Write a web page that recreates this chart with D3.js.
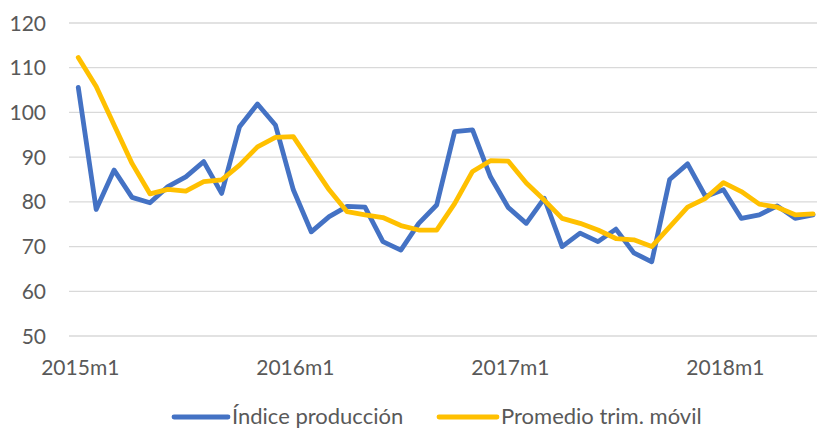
<!DOCTYPE html>
<html><head><meta charset="utf-8">
<script src="https://cdn.jsdelivr.net/npm/d3@7"></script>
<style>
html,body{margin:0;padding:0;background:#fff;overflow:hidden;}
text{font-family:Lato,"Open Sans",sans-serif;fill:#595959;}
</style></head>
<body><svg id="c" width="817" height="430"></svg>
<script>
const years = [2015, 2016, 2017, 2018];
const categories = [];
years.forEach(y => { for (let m = 1; m <= 12; m++) { if (y === 2018 && m > 6) break; categories.push(y + "m" + m); } });
const tickLabels = ["2015m1", "2016m1", "2017m1", "2018m1"];
const yTicks = [50, 60, 70, 80, 90, 100, 110, 120];
const indice = [105.6, 78.3, 87.1, 81.0, 79.8, 83.4, 85.6, 89.0, 81.9, 96.8, 101.9, 97.2,
  82.7, 73.3, 76.7, 79.0, 78.8, 71.1, 69.2, 75.2, 79.3, 95.7, 96.1, 85.6,
  78.7, 75.2, 80.8, 70.0, 73.0, 71.1, 73.9, 68.6, 66.6, 85.0, 88.5, 81.2,
  82.7, 76.3, 77.1, 79.1, 76.3, 77.1];
const promedio = [112.3, 105.8, 97.2, 88.6, 81.8, 82.8, 82.4, 84.5, 84.9, 88.2, 92.3, 94.4,
  94.6, 88.6, 82.7, 77.8, 77.1, 76.5, 74.7, 73.7, 73.7, 79.6, 86.8, 89.2,
  89.1, 84.2, 80.4, 76.3, 75.2, 73.7, 71.8, 71.5, 70.0, 74.4, 78.8, 80.8,
  84.3, 82.3, 79.5, 78.8, 77.1, 77.3];
const seriesNames = ["Índice producción", "Promedio trim. móvil"];
const colors = ["#4472C4", "#FFC000"];

const svg = d3.select("#c");
const x = d3.scaleBand().domain(categories).range([69.3, 822]).padding(0);
const xc = d => x(d) + x.bandwidth() / 2;
const y = d3.scaleLinear().domain([50, 120]).range([336, 23]);

// gridlines
svg.append("g").selectAll("line").data(yTicks).join("line")
  .attr("x1", 69).attr("x2", 817)
  .attr("y1", d => y(d)).attr("y2", d => y(d))
  .attr("stroke", "#D9D9D9").attr("stroke-width", 1.3);

// y labels
svg.append("g").selectAll("text").data(yTicks).join("text")
  .attr("x", 46).attr("y", d => y(d)).attr("dy", "0.36em")
  .attr("text-anchor", "end").attr("font-size", 21).text(d => d);

// x labels
svg.append("g").selectAll("text").data(tickLabels).join("text")
  .attr("x", d => xc(d) + 2).attr("y", 375)
  .attr("text-anchor", "middle").attr("font-size", 21).text(d => d);

const line = d3.line().x((d, i) => xc(categories[i])).y(d => y(d));
[indice, promedio].forEach((s, k) => {
  svg.append("path").datum(s).attr("d", line)
    .attr("fill", "none").attr("stroke", colors[k]).attr("stroke-width", 4.8)
    .attr("stroke-linejoin", "round").attr("stroke-linecap", "round");
});

// legend
const leg = [{x: 174, tx: 232}, {x: 439, tx: 501}];
seriesNames.forEach((n, k) => {
  svg.append("line").attr("x1", leg[k].x).attr("x2", leg[k].tx - 4)
    .attr("y1", 417).attr("y2", 417).attr("stroke", colors[k])
    .attr("stroke-width", 4.8).attr("stroke-linecap", "round");
  svg.append("text").attr("x", leg[k].tx).attr("y", 424)
    .attr("font-size", 22).text(n);
});
</script></body></html>
